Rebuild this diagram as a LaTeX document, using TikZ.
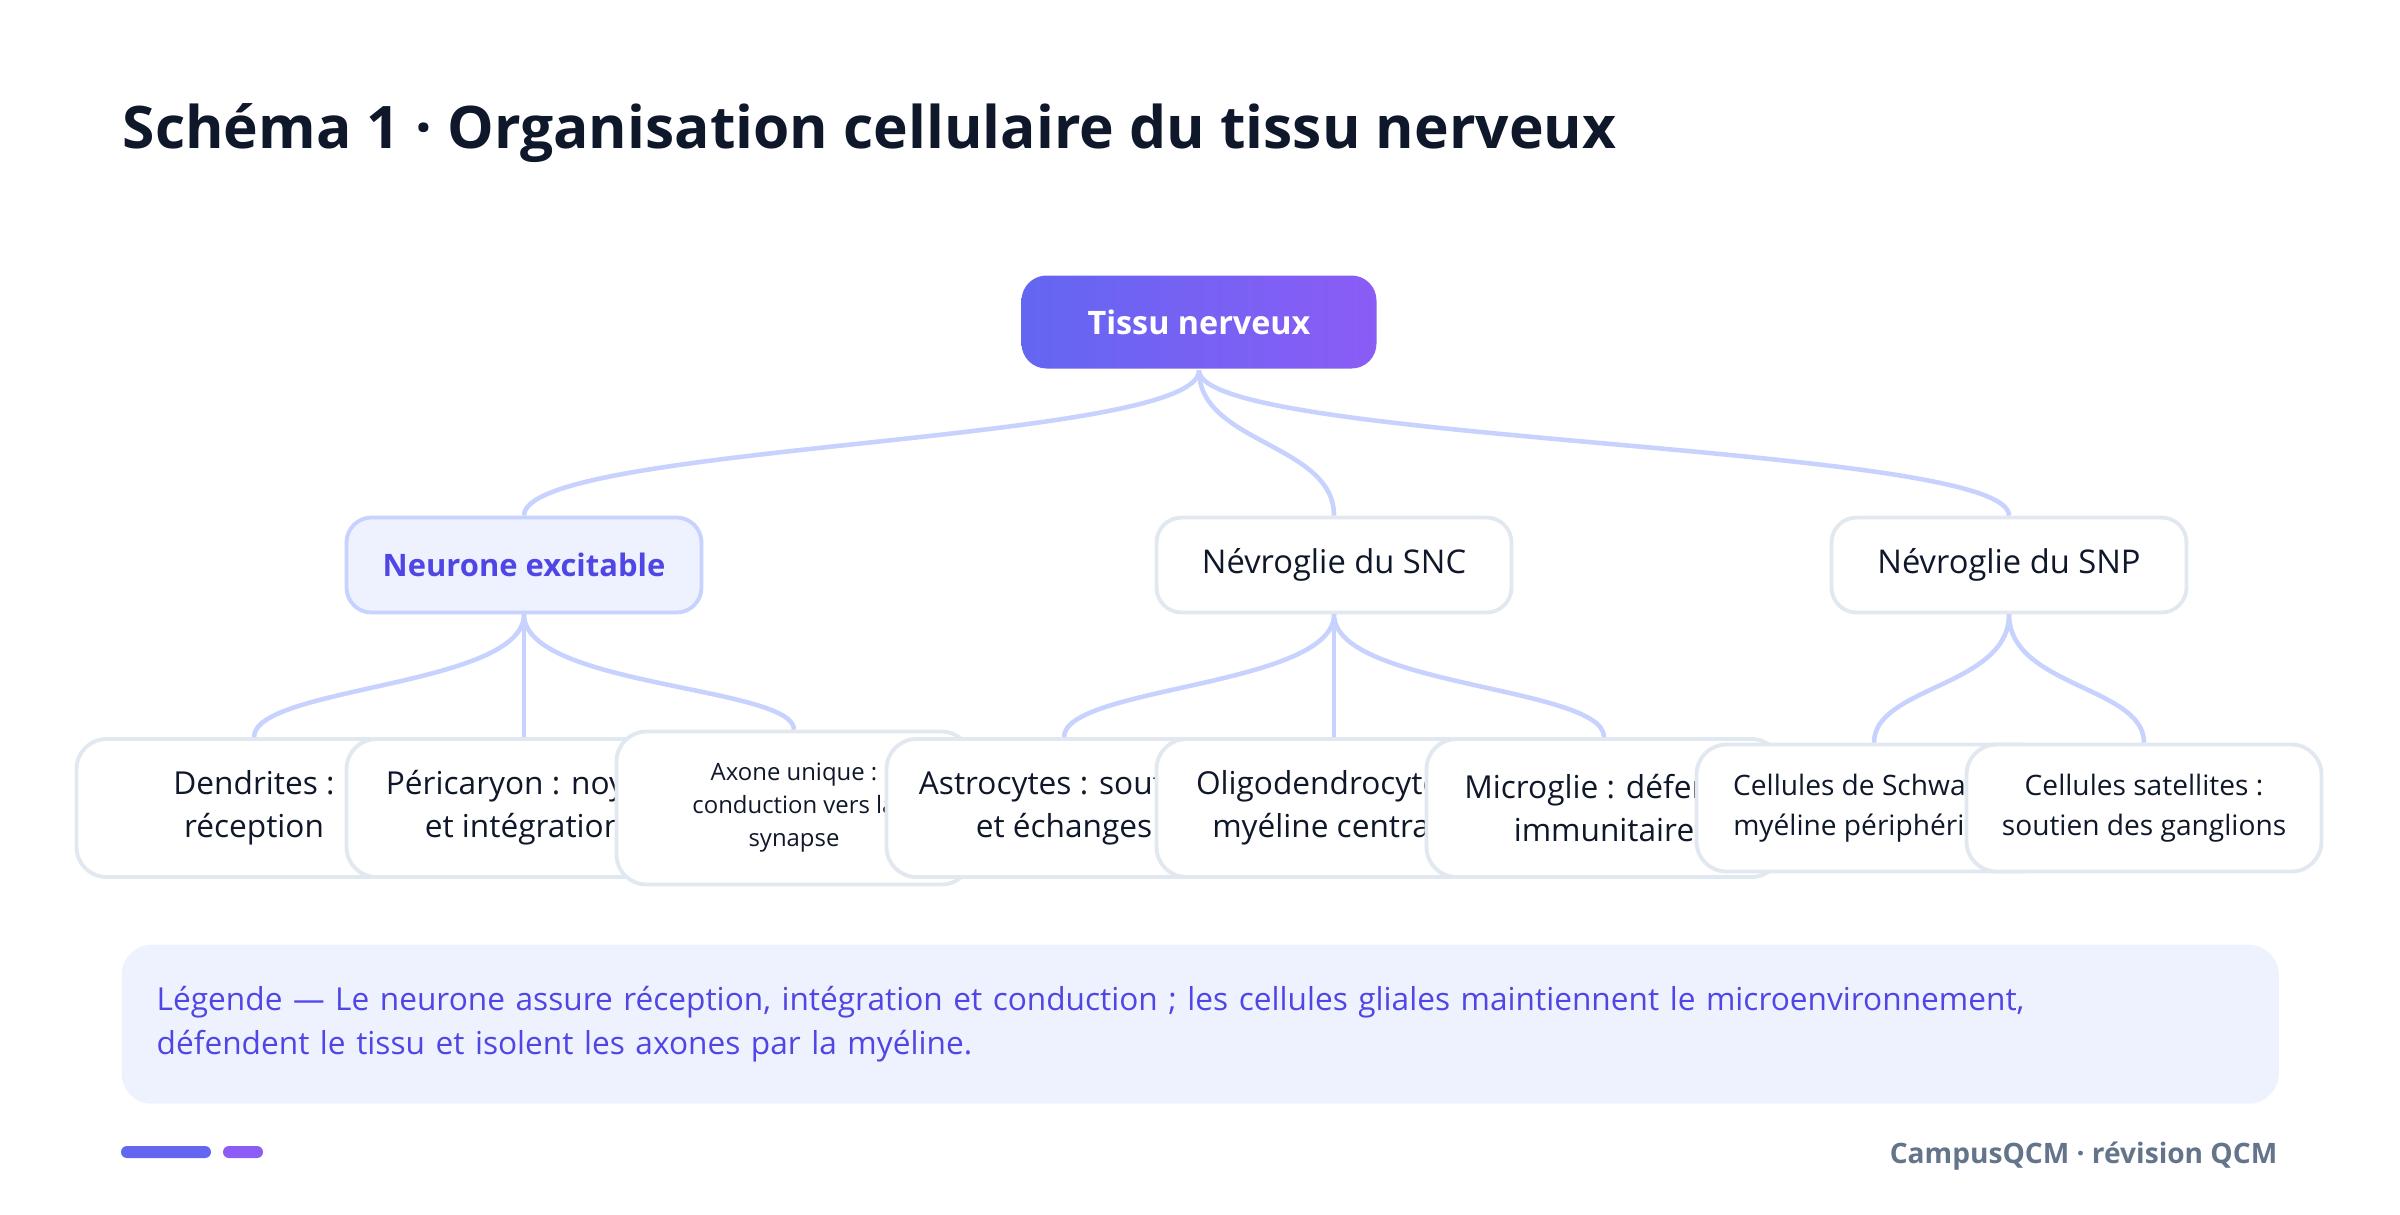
\documentclass[tikz,border=0pt]{standalone}
\usepackage{fontspec}
\setmainfont{Open Sans}
\usetikzlibrary{calc}

\definecolor{ink}{HTML}{0F172A}
\definecolor{indigo}{HTML}{6366F1}
\definecolor{violet}{HTML}{8B5CF6}
\definecolor{accent}{HTML}{4F46E5}
\definecolor{paleind}{HTML}{EEF2FF}
\definecolor{linkc}{HTML}{C7D2FE}
\definecolor{edgegray}{HTML}{E2E8F0}
\definecolor{slate}{HTML}{64748B}

\begin{document}
\begin{tikzpicture}[node distance=2.7cm,
  box/.style={rectangle,rounded corners=0.25cm,minimum width=3.55cm,line width=1.1pt,align=center,inner sep=2pt},
  rootbox/.style={box,minimum height=0.93cm,left color=indigo,right color=violet,text=white,font=\fontsize{9.2}{11}\selectfont\bfseries},
  groupbox/.style={box,minimum height=0.95cm,draw=edgegray,fill=white,text=ink,font=\fontsize{9.3}{11}\selectfont},
  neurbox/.style={groupbox,draw=linkc,fill=paleind,text=accent,font=\fontsize{8.8}{11}\selectfont\bfseries},
  leaf/.style={box,rounded corners=0.3cm,minimum height=1.38cm,draw=edgegray,fill=white,text=ink,font=\fontsize{9}{12.2}\selectfont},
  link/.style={draw=linkc,line width=1.3pt,to path={.. controls +(0,-1.215) and +(0,1.215) .. (\tikztotarget) \tikztonodes}}]

\useasboundingbox (0,0) rectangle (24,-12.14);

\node[anchor=base west,inner sep=0pt,text=ink,font=\fontsize{16.7}{20}\selectfont\bfseries] (title) at (1.22,-1.48) {Schéma 1 · Organisation cellulaire du tissu nerveux};

% feuilles
\node[leaf] (dend) at (2.54,-8.08) {Dendrites :\\réception};
\node[leaf] (peri) [right of=dend] {Péricaryon : noyau\\et intégration};
\node[leaf,minimum height=1.53cm,font=\fontsize{6.8}{9.4}\selectfont] (axon) [right of=peri] {Axone unique :\\conduction vers la\\synapse};
\node[leaf] (astro) [right of=axon] {Astrocytes : soutien\\et échanges};
\node[leaf] (olig) [right of=astro] {Oligodendrocytes :\\myéline centrale};
\node[leaf] (micro) [right of=olig] {Microglie : défense\\immunitaire};
\node[leaf,minimum height=1.27cm,font=\fontsize{8}{11.3}\selectfont] (schw) [right of=micro] {Cellules de Schwann :\\myéline périphérique};
\node[leaf,minimum height=1.27cm,font=\fontsize{8}{11.3}\selectfont] (sat) [right of=schw] {Cellules satellites :\\soutien des ganglions};

% groupes
\node[neurbox,node distance=2.43cm] (neur) [above of=peri] {Neurone excitable};
\node[groupbox,node distance=2.43cm] (snc) [above of=olig] {Névroglie du SNC};
\node[groupbox] (snp) at ($(schw)!0.5!(sat)+(0,2.43)$) {Névroglie du SNP};
\node[rootbox] (root) at ($(dend)!0.5!(sat)+(0,4.86)$) {Tissu nerveux};

\path
(root) edge [link] (neur)
       edge [link] (snc)
       edge [link] (snp)
(neur) edge [link] (dend)
       edge [link] (peri)
       edge [link] (axon)
(snc) edge [link] (astro)
      edge [link] (olig)
      edge [link] (micro)
(snp) edge [link] (schw)
      edge [link] (sat)
;

\node[anchor=north west,fill=paleind,rounded corners=0.3cm,minimum height=1.59cm,inner xsep=0.35cm,text width=20.87cm,align=left,text=accent,font=\fontsize{9}{12.6}\selectfont] (legend) at (1.21,-9.44) {Légende — Le neurone assure réception, intégration et conduction ; les cellules gliales maintiennent le microenvironnement,\\défendent le tissu et isolent les axones par la myéline.};

\fill[indigo,rounded corners=0.06cm] (1.21,-11.46) rectangle (2.11,-11.58);
\fill[violet,rounded corners=0.06cm] (2.23,-11.46) rectangle (2.63,-11.58);
\node[anchor=base east,inner sep=0pt,text=slate,font=\fontsize{8}{10}\selectfont\bfseries] (foot) at (22.78,-11.63) {CampusQCM · révision QCM};
\end{tikzpicture}
\end{document}
